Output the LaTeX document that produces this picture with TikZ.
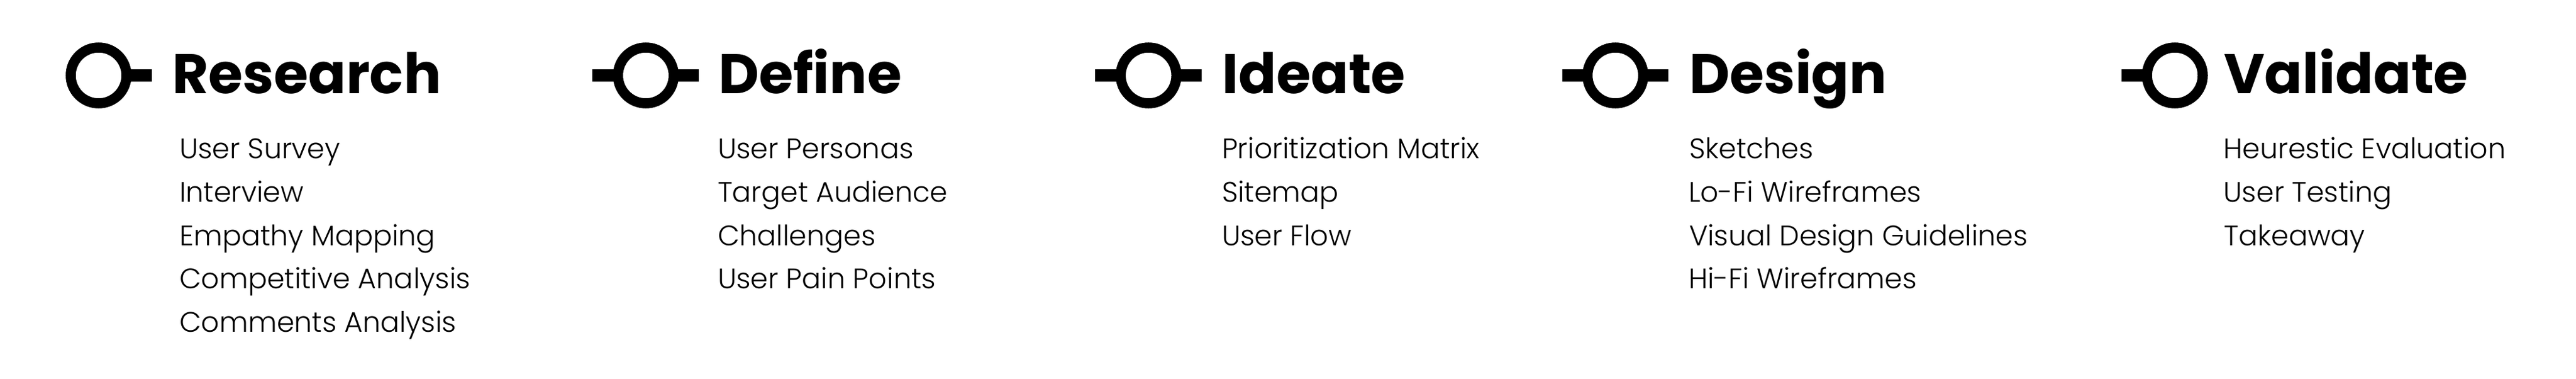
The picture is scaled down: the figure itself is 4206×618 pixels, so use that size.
\documentclass[tikz,border=0pt]{standalone}
\usepackage{fontspec}
\setmainfont{Poppins}
\newfontfamily\headfont{Poppins Bold}
\newfontfamily\itemfont{Poppins Light}
\begin{document}
\begin{tikzpicture}[x=1pt,y=-1pt,
  ring/.style={circle,draw=black,line width=16.5pt,minimum size=91pt,inner sep=0pt,outer sep=0pt},
  bar/.style={draw=black,line width=20.7pt,line cap=butt},
  head/.style={anchor=base west,inner sep=0pt,outer sep=0pt,font=\headfont\fontsize{91}{100}\selectfont},
  item/.style={anchor=base west,inner sep=0pt,outer sep=0pt,font=\itemfont\fontsize{46}{52}\selectfont}]
\fill[white] (0,0) rectangle (4206,618);
\useasboundingbox (0,0) rectangle (4206,618);
% Research
\node[ring] (c1) at (161,123) {};
\coordinate (r1) at (248,123);
\draw[bar] (c1.east) -- (r1);
\node[head] (h1) at (281,152.7) {Research};
\node[item] (i11) at (293,258) {User Survey};
\node[item] (i12) at (293,329) {Interview};
\node[item] (i13) at (293,400) {Empathy Mapping};
\node[item] (i14) at (293,470.5) {Competitive Analysis};
\node[item] (i15) at (293,541) {Comments Analysis};
% Define
\node[ring] (c2) at (1054.5,123) {};
\coordinate (l2) at (967.3,123);
\coordinate (r2) at (1141,123);
\draw[bar] (l2) -- (c2.west);
\draw[bar] (c2.east) -- (r2);
\node[head] (h2) at (1173,152.7) {Define};
\node[item] (i21) at (1172,258) {User Personas};
\node[item] (i22) at (1172,329) {Target Audience};
\node[item] (i23) at (1172,400) {Challenges};
\node[item] (i24) at (1172,470.5) {User Pain Points};
% Ideate
\node[ring] (c3) at (1875.3,123) {};
\coordinate (l3) at (1788.3,123);
\coordinate (r3) at (1961.7,123);
\draw[bar] (l3) -- (c3.west);
\draw[bar] (c3.east) -- (r3);
\node[head] (h3) at (1995.5,152.7) {Ideate};
\node[item] (i31) at (1995,258) {Prioritization Matrix};
\node[item] (i32) at (1995,329) {Sitemap};
\node[item] (i33) at (1995,400) {User Flow};
% Design
\node[ring] (c4) at (2637.5,123) {};
\coordinate (l4) at (2551,123);
\coordinate (r4) at (2724,123);
\draw[bar] (l4) -- (c4.west);
\draw[bar] (c4.east) -- (r4);
\node[head] (h4) at (2758,152.7) {Design};
\node[item] (i41) at (2758,258) {Sketches};
\node[item] (i42) at (2757,329) {Lo-Fi Wireframes};
\node[item] (i43) at (2758,400) {Visual Design Guidelines};
\node[item] (i44) at (2757,470.5) {Hi-Fi Wireframes};
% Validate
\node[ring] (c5) at (3551,123) {};
\coordinate (l5) at (3464,123);
\draw[bar] (l5) -- (c5.west);
\node[head] (h5) at (3631.5,152.7) {Validate};
\node[item] (i51) at (3630.5,258) {Heurestic Evaluation};
\node[item] (i52) at (3630.5,329) {User Testing};
\node[item] (i53) at (3631.5,400) {Takeaway};
\end{tikzpicture}
\end{document}
